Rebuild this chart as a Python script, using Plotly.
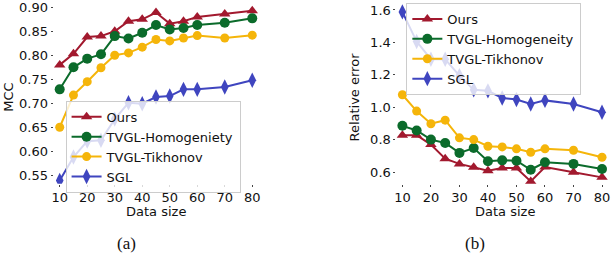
import plotly.graph_objects as go

data_size = [10, 15, 20, 25, 30, 35, 40, 45, 50, 55, 60, 70, 80]

mcc_ours = [0.781, 0.804, 0.839, 0.841, 0.851, 0.872, 0.876, 0.890, 0.867, 0.872, 0.881, 0.887, 0.894]
mcc_homog = [0.730, 0.776, 0.794, 0.803, 0.841, 0.836, 0.848, 0.864, 0.855, 0.858, 0.864, 0.869, 0.878]
mcc_tikh = [0.651, 0.718, 0.746, 0.775, 0.801, 0.806, 0.818, 0.834, 0.831, 0.837, 0.842, 0.837, 0.843]
mcc_sgl = [0.540, 0.589, 0.622, 0.624, 0.668, 0.702, 0.700, 0.714, 0.716, 0.730, 0.730, 0.735, 0.749]

err_ours = [0.827, 0.827, 0.769, 0.682, 0.650, 0.629, 0.608, 0.625, 0.625, 0.542, 0.631, 0.598, 0.567]
err_homog = [0.885, 0.856, 0.800, 0.779, 0.718, 0.748, 0.666, 0.672, 0.670, 0.614, 0.660, 0.650, 0.619]
err_tikh = [1.077, 0.976, 0.898, 0.920, 0.811, 0.800, 0.759, 0.755, 0.743, 0.722, 0.743, 0.734, 0.691]
err_sgl = [1.588, 1.405, 1.296, 1.296, 1.195, 1.107, 1.101, 1.057, 1.047, 1.020, 1.042, 1.020, 0.969]

names_a = ["Ours", "TVGL-Homogeniety", "TVGL-Tikhonov", "SGL"]
names_b = ["Ours", "TVGL-Homogeneity", "TVGL-Tikhonov", "SGL"]
mcc_ticks = [0.55, 0.60, 0.65, 0.70, 0.75, 0.80, 0.85, 0.90]
err_ticks = [0.6, 0.8, 1.0, 1.2, 1.4, 1.6]
x_ticks = [10, 20, 30, 40, 50, 60, 70, 80]

colors = ["#a2192e", "#0b6b2b", "#f5b50a", "#3f45bf"]
symbols = ["triangle-up", "circle", "circle", "diamond-tall"]
sizes = [10, 10, 9, 11]

FONT = "DejaVu Sans"
W, H = 612, 254

fig = go.Figure()

series_a = [mcc_ours, mcc_homog, mcc_tikh, mcc_sgl]
series_b = [err_ours, err_homog, err_tikh, err_sgl]

for i in range(4):
    fig.add_trace(go.Scatter(
        x=data_size, y=series_a[i], name=names_a[i], mode="lines+markers",
        line=dict(color=colors[i], width=2),
        marker=dict(color=colors[i], symbol=symbols[i], size=sizes[i]),
        xaxis="x", yaxis="y", legend="legend"))
for i in range(4):
    fig.add_trace(go.Scatter(
        x=data_size, y=series_b[i], name=names_b[i], mode="lines+markers",
        line=dict(color=colors[i], width=2),
        marker=dict(color=colors[i], symbol=symbols[i], size=sizes[i]),
        xaxis="x2", yaxis="y2", legend="legend2"))

def px_x(p):
    return p / W

def px_y(p):
    return 1 - p / H

axis_common = dict(showgrid=False, zeroline=False, showline=False,
                   ticks="outside", ticklen=2, tickcolor="#444",
                   ticklabeloverflow="allow",
                   tickfont=dict(family=FONT, size=13, color="#111"))

fig.update_layout(
    width=W, height=H,
    margin=dict(l=0, r=0, t=0, b=0),
    paper_bgcolor="white", plot_bgcolor="white",
    font=dict(family=FONT, size=13, color="#111"),
    xaxis=dict(domain=[px_x(52), px_x(258)], range=[7.8, 82.2],
               tickvals=x_ticks, anchor="y", **axis_common),
    yaxis=dict(domain=[px_y(183), 1], range=[0.533, 0.910],
               tickvals=mcc_ticks, tickformat=".2f", anchor="x", **axis_common),
    xaxis2=dict(domain=[px_x(397), px_x(610)], range=[7.9, 82.1],
                tickvals=x_ticks, anchor="y2", **axis_common),
    yaxis2=dict(domain=[px_y(183), 1], range=[0.527, 1.643],
                tickvals=err_ticks, tickformat=".1f", anchor="x2", **axis_common),
    legend=dict(x=px_x(64), y=px_y(99), xanchor="left", yanchor="top",
                bgcolor="rgba(255,255,255,0.8)", bordercolor="#cccccc", borderwidth=1,
                font=dict(family=FONT, size=13, color="#111"), tracegroupgap=0),
    legend2=dict(x=px_x(407), y=1.0, xanchor="left", yanchor="top",
                 bgcolor="rgba(255,255,255,0.8)", bordercolor="#cccccc", borderwidth=1,
                 font=dict(family=FONT, size=13, color="#111"), tracegroupgap=0),
    showlegend=True,
)

annotations = [
    dict(text="MCC", x=px_x(7), y=px_y(95), textangle=-90),
    dict(text="Relative error", x=px_x(355), y=px_y(95), textangle=-90),
    dict(text="Data size", x=px_x(155), y=px_y(211)),
    dict(text="Data size", x=px_x(506), y=px_y(211)),
]
for a in annotations:
    fig.add_annotation(xref="paper", yref="paper", showarrow=False,
                       xanchor="center", yanchor="middle",
                       font=dict(family=FONT, size=13, color="#111"), **a)

for txt, xc in [("(a)", 125), ("(b)", 476)]:
    fig.add_annotation(xref="paper", yref="paper", showarrow=False,
                       x=px_x(xc), y=px_y(243), xanchor="center", yanchor="middle",
                       text=txt, font=dict(family="Liberation Serif", size=17, color="#111"))

fig.write_html("out.html", config={"displayModeBar": False},
               post_script="document.body.style.margin='0';document.body.style.overflow='hidden';")
